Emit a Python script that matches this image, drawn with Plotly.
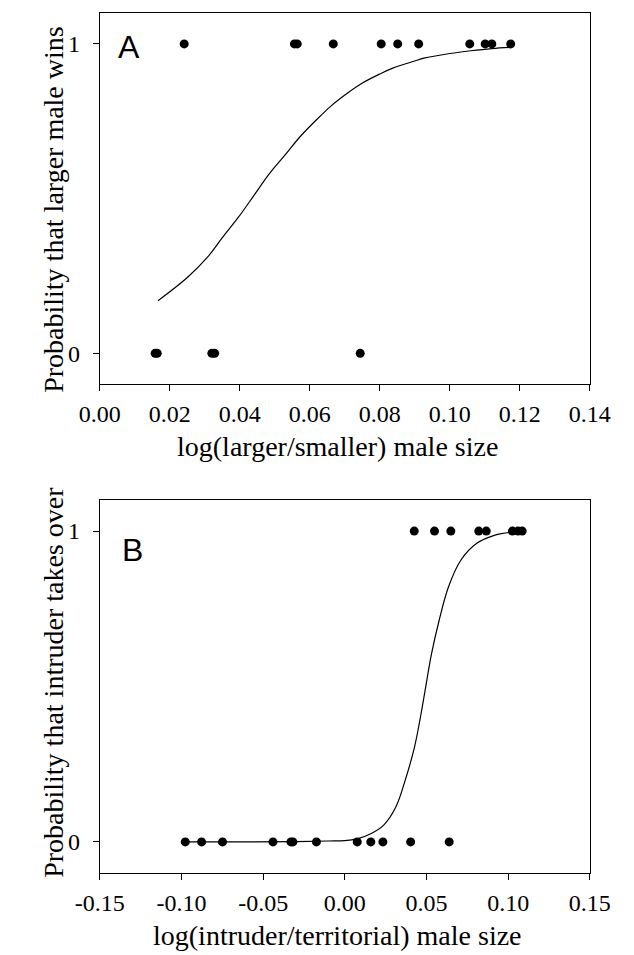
import plotly.graph_objects as go

# ---- Panel A data ----
a_win_x = [0.0241, 0.0556, 0.0564, 0.0667, 0.0804, 0.0851, 0.0911, 0.1057, 0.1101, 0.1120, 0.1174]
a_win_y = [1] * len(a_win_x)
a_loss_x = [0.0158, 0.0164, 0.0320, 0.0328, 0.0744]
a_loss_y = [0] * len(a_loss_x)
a_curve_x = [0.0166, 0.025, 0.0307, 0.035, 0.0396, 0.044, 0.0484, 0.053, 0.0572, 0.062,
             0.0661, 0.0705, 0.0749, 0.080, 0.0837, 0.090, 0.0926, 0.100, 0.106, 0.112, 0.1175]
a_curve_y = [0.17, 0.245, 0.31, 0.374, 0.44, 0.51, 0.58, 0.642, 0.70, 0.756,
             0.80, 0.839, 0.873, 0.903, 0.922, 0.945, 0.954, 0.969, 0.978, 0.985, 0.989]

# ---- Panel B data ----
b_win_x = [0.0425, 0.0549, 0.0649, 0.0820, 0.0866, 0.1026, 0.1060, 0.1086]
b_win_y = [1] * len(b_win_x)
b_loss_x = [-0.0977, -0.0877, -0.0749, -0.0440, -0.0330, -0.0318, -0.0174, 0.0076, 0.0159, 0.0233, 0.0403, 0.0639]
b_loss_y = [0] * len(b_loss_x)
b_curve_x = [-0.0977, -0.06, -0.03, -0.01, 0.0, 0.0076, 0.0162, 0.0238, 0.0313, 0.037, 0.0427,
             0.0474, 0.0502, 0.0531, 0.0578, 0.0635, 0.0711, 0.0806, 0.0919, 0.1026]
b_curve_y = [0.0, 0.0, 0.001, 0.003, 0.004, 0.010, 0.027, 0.054, 0.113, 0.199, 0.306,
             0.434, 0.52, 0.606, 0.714, 0.821, 0.907, 0.96, 0.987, 0.997]

a_xticks = [0.00, 0.02, 0.04, 0.06, 0.08, 0.10, 0.12, 0.14]
a_xticktext = ["0.00", "0.02", "0.04", "0.06", "0.08", "0.10", "0.12", "0.14"]
b_xticks = [-0.15, -0.10, -0.05, 0.00, 0.05, 0.10, 0.15]
b_xticktext = ["-0.15", "-0.10", "-0.05", "0.00", "0.05", "0.10", "0.15"]
y_ticks = [0, 1]
y_ticktext = ["0", "1"]

a_xlabel = "log(larger/smaller) male size"
a_ylabel = "Probability that larger male wins"
b_xlabel = "log(intruder/territorial) male size"
b_ylabel = "Probability that intruder takes over"

W, H = 634, 955
serif = "Liberation Serif"
sans = "Liberation Sans"

fig = go.Figure()

dot = dict(color="black", size=9)
line = dict(color="black", width=1.2, shape="spline")

fig.add_trace(go.Scatter(x=a_curve_x, y=a_curve_y, mode="lines", line=line, xaxis="x", yaxis="y"))
fig.add_trace(go.Scatter(x=a_win_x, y=a_win_y, mode="markers", marker=dot, xaxis="x", yaxis="y"))
fig.add_trace(go.Scatter(x=a_loss_x, y=a_loss_y, mode="markers", marker=dot, xaxis="x", yaxis="y"))

fig.add_trace(go.Scatter(x=b_curve_x, y=b_curve_y, mode="lines", line=line, xaxis="x2", yaxis="y2"))
fig.add_trace(go.Scatter(x=b_win_x, y=b_win_y, mode="markers", marker=dot, xaxis="x2", yaxis="y2"))
fig.add_trace(go.Scatter(x=b_loss_x, y=b_loss_y, mode="markers", marker=dot, xaxis="x2", yaxis="y2"))


def px_x(p):
    return p / W


def px_y(p):
    return 1 - p / H


axis_common = dict(
    showline=True, linecolor="black", linewidth=1, mirror=True,
    ticks="outside", ticklen=6, tickcolor="black", tickwidth=1,
    showgrid=False, zeroline=False,
    tickfont=dict(family=serif, size=24, color="black"),
)

L, R = 80.7, 609
A_TOP, A_BOT = 13, 384.3
B_TOP, B_BOT = 500, 873

fig.update_layout(
    width=W, height=H,
    margin=dict(l=0, r=0, t=0, b=0),
    paper_bgcolor="white", plot_bgcolor="white",
    showlegend=False,
    xaxis=dict(axis_common, domain=[px_x(L), px_x(R)], range=[0, 0.14],
               tickvals=a_xticks, ticktext=a_xticktext, anchor="y", ticklabelstandoff=2),
    yaxis=dict(axis_common, domain=[px_y(A_BOT), px_y(A_TOP)], range=[-0.1, 1.1],
               tickvals=y_ticks, ticktext=y_ticktext, anchor="x", ticklabelstandoff=8),
    xaxis2=dict(axis_common, domain=[px_x(L), px_x(R)], range=[-0.15, 0.15],
                tickvals=b_xticks, ticktext=b_xticktext, anchor="y2", ticklabelstandoff=2),
    yaxis2=dict(axis_common, domain=[px_y(B_BOT), px_y(B_TOP)], range=[-0.1, 1.1],
                tickvals=y_ticks, ticktext=y_ticktext, anchor="x2", ticklabelstandoff=8),
)

title_font = dict(family=serif, size=28, color="black")
cx = 337
fig.update_layout(annotations=[
    dict(text="A", x=0.0084, y=0.99, xref="x", yref="y", showarrow=False,
         font=dict(family=sans, size=32, color="black")),
    dict(text="B", x=-0.130, y=0.939, xref="x2", yref="y2", showarrow=False,
         font=dict(family=sans, size=32, color="black")),
    dict(text=a_xlabel, x=px_x(cx), y=px_y(446), xref="paper", yref="paper",
         showarrow=False, font=title_font, xanchor="center", yanchor="middle"),
    dict(text=b_xlabel, x=px_x(cx), y=px_y(935), xref="paper", yref="paper",
         showarrow=False, font=title_font, xanchor="center", yanchor="middle"),
    dict(text=a_ylabel, x=px_x(30), y=px_y(209), xref="paper", yref="paper",
         showarrow=False, font=title_font, textangle=-90, xanchor="center", yanchor="middle"),
    dict(text=b_ylabel, x=px_x(30), y=px_y(682), xref="paper", yref="paper",
         showarrow=False, font=title_font, textangle=-90, xanchor="center", yanchor="middle"),
])

fig.write_html("out.html")
